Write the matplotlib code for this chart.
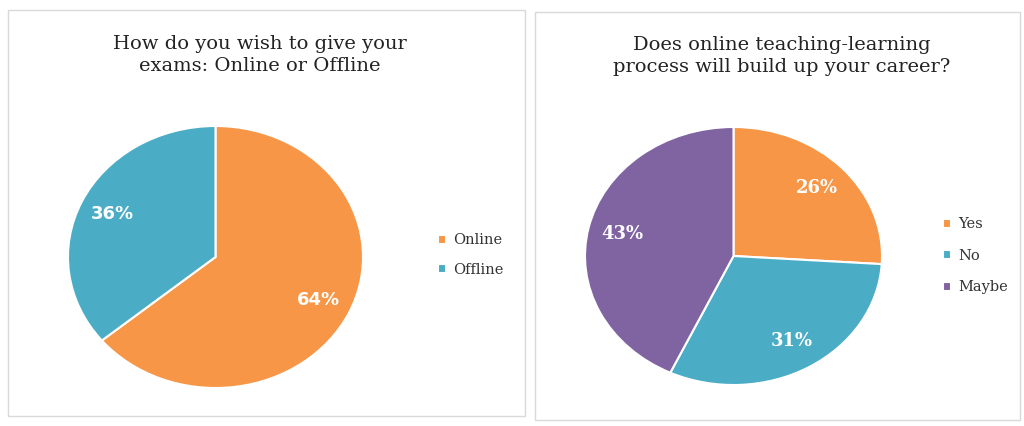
import matplotlib.pyplot as plt
from matplotlib.patches import Rectangle

# exam mode question
exam_labels = ['Online', 'Offline']
exam_share = [64, 36]
exam_title = 'How do you wish to give your\nexams: Online or Offline'

# career question
career_labels = ['Yes', 'No', 'Maybe']
career_share = [26, 31, 43]
career_title = 'Does online teaching-learning\nprocess will build up your career?'

orange = '#F79646'
blue = '#4BACC6'
purple = '#8064A2'

fig = plt.figure(figsize=(10.24, 4.26), dpi=100)

# chart frames
for x0, y0, w, h in [(8, 10, 517, 406), (535, 12, 485, 408)]:
    fig.patches.append(Rectangle((x0 / 1024, 1 - (y0 + h) / 426), w / 1024, h / 426,
                                 transform=fig.transFigure, fill=False,
                                 edgecolor='#D9D9D9', linewidth=1.0))


def draw_pie(rect, values, labels, colors, title, title_xy, legend_xy, pct_font, spacing):
    ax = fig.add_axes(rect)
    wedges, _, autotexts = ax.pie(values, colors=colors, startangle=90, counterclock=False,
                                  autopct='%d%%', pctdistance=0.77,
                                  wedgeprops=dict(edgecolor='white', linewidth=1.5))
    for t in autotexts:
        t.set_color('white')
        t.set_fontweight('bold')
        t.set_fontsize(13)
        t.set_family(pct_font)
    ax.set_aspect('auto')
    ax.set_xlim(-1, 1)
    ax.set_ylim(-1, 1)
    fig.text(title_xy[0] / 1024, 1 - title_xy[1] / 426, title, ha='center', va='center',
             fontsize=14, family='DejaVu Serif', color='#222222', linespacing=1.25)
    fig.legend(wedges, labels, loc='center left',
               bbox_to_anchor=(legend_xy[0] / 1024, 1 - legend_xy[1] / 426),
               frameon=False, handlelength=0.55, handleheight=0.55, handletextpad=0.5,
               labelspacing=spacing, prop={'family': 'DejaVu Serif', 'size': 10.5},
               labelcolor='#333333')


draw_pie([68 / 1024, 1 - 388 / 426, 295 / 1024, 262 / 426], exam_share, exam_labels,
         [orange, blue], exam_title, (260, 55), (425, 255), 'DejaVu Sans', 1.05)
draw_pie([585 / 1024, 1 - 385 / 426, 297 / 1024, 258 / 426], career_share, career_labels,
         [orange, blue, purple], career_title, (782, 56), (930, 256), 'DejaVu Serif', 1.2)

fig.savefig('out.png', dpi=100)
